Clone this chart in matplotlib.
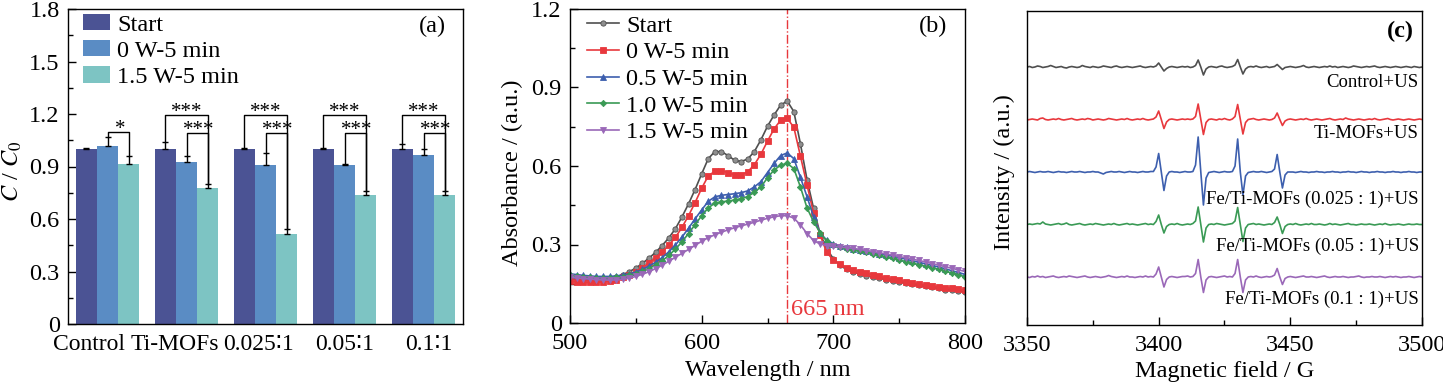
import numpy as np
import matplotlib
matplotlib.use("Agg")
import matplotlib.pyplot as plt
from matplotlib.ticker import MultipleLocator, FuncFormatter
from matplotlib.transforms import ScaledTranslation

plt.rcParams['font.family'] = ['Liberation Serif', 'DejaVu Sans', 'Noto Sans CJK SC']
plt.rcParams['mathtext.fontset'] = 'stix'
plt.rcParams['axes.linewidth'] = 1.0

# ---------------- Panel (a) data ----------------
groups = ['Control', 'Ti-MOFs', '0.025\u22361', '0.05\u22361', '0.1\u22361']
bar_series = ['Start', '0 W-5 min', '1.5 W-5 min']
start_vals = [1.00, 1.00, 1.00, 1.00, 1.00]
start_err = [0.005, 0.042, 0.007, 0.004, 0.029]
w0_vals = [1.019, 0.926, 0.907, 0.907, 0.964]
w0_err = [0.047, 0.032, 0.068, 0.006, 0.036]
w15_vals = [0.914, 0.775, 0.512, 0.737, 0.739]
w15_err = [0.044, 0.023, 0.029, 0.025, 0.021]
sig_big = ['', '***', '***', '***', '***']      # Start vs 1.5 W
sig_small = ['*', '***', '***', '***', '***']   # 0 W vs 1.5 W

# ---------------- Panel (b) data ----------------
wavelength = list(range(500, 801, 5))
abs_start = [0.170, 0.168, 0.166, 0.165, 0.165, 0.166, 0.170, 0.176, 0.185, 0.196,
             0.210, 0.228, 0.248, 0.270, 0.296, 0.325, 0.360, 0.405, 0.455, 0.510,
             0.570, 0.628, 0.655, 0.655, 0.640, 0.622, 0.617, 0.627, 0.655, 0.700,
             0.752, 0.795, 0.833, 0.848, 0.808, 0.685, 0.548, 0.438, 0.340, 0.285,
             0.245, 0.220, 0.205, 0.195, 0.187, 0.181, 0.176, 0.171, 0.166, 0.162,
             0.157, 0.152, 0.148, 0.144, 0.140, 0.136, 0.132, 0.128, 0.125, 0.122,
             0.119]
abs_0w = [0.160, 0.157, 0.155, 0.155, 0.155, 0.157, 0.160, 0.166, 0.174, 0.184,
          0.196, 0.212, 0.230, 0.250, 0.272, 0.297, 0.327, 0.365, 0.410, 0.460,
          0.515, 0.562, 0.580, 0.582, 0.575, 0.566, 0.566, 0.578, 0.605, 0.645,
          0.695, 0.742, 0.775, 0.782, 0.748, 0.638, 0.528, 0.420, 0.335, 0.270,
          0.240, 0.225, 0.212, 0.203, 0.196, 0.190, 0.184, 0.178, 0.173, 0.168,
          0.163, 0.158, 0.153, 0.149, 0.145, 0.141, 0.138, 0.135, 0.132, 0.129,
          0.126]
abs_05w = [0.188, 0.185, 0.182, 0.180, 0.178, 0.178, 0.178, 0.180, 0.183, 0.188,
           0.195, 0.205, 0.218, 0.232, 0.250, 0.272, 0.298, 0.328, 0.362, 0.398,
           0.432, 0.465, 0.482, 0.488, 0.491, 0.494, 0.498, 0.505, 0.520, 0.540,
           0.575, 0.610, 0.640, 0.650, 0.628, 0.557, 0.483, 0.406, 0.343, 0.317,
           0.303, 0.295, 0.289, 0.284, 0.279, 0.275, 0.270, 0.265, 0.260, 0.255,
           0.250, 0.244, 0.238, 0.232, 0.226, 0.220, 0.214, 0.207, 0.200, 0.193,
           0.186]
abs_10w = [0.183, 0.180, 0.177, 0.175, 0.173, 0.172, 0.172, 0.174, 0.177, 0.182,
           0.188, 0.197, 0.208, 0.222, 0.238, 0.258, 0.282, 0.310, 0.342, 0.376,
           0.410, 0.440, 0.458, 0.463, 0.466, 0.470, 0.475, 0.483, 0.500, 0.520,
           0.555, 0.585, 0.603, 0.610, 0.590, 0.520, 0.440, 0.387, 0.345, 0.312,
           0.297, 0.289, 0.284, 0.280, 0.275, 0.270, 0.265, 0.259, 0.253, 0.247,
           0.241, 0.235, 0.229, 0.223, 0.217, 0.211, 0.205, 0.198, 0.191, 0.184,
           0.177]
abs_15w = [0.175, 0.172, 0.170, 0.168, 0.166, 0.165, 0.164, 0.165, 0.167, 0.171,
           0.178, 0.186, 0.196, 0.208, 0.221, 0.236, 0.251, 0.266, 0.281, 0.297,
           0.312, 0.326, 0.337, 0.347, 0.356, 0.364, 0.371, 0.378, 0.385, 0.393,
           0.400, 0.406, 0.410, 0.410, 0.401, 0.375, 0.342, 0.315, 0.302, 0.296,
           0.293, 0.290, 0.288, 0.285, 0.281, 0.277, 0.273, 0.268, 0.264, 0.259,
           0.254, 0.249, 0.244, 0.239, 0.233, 0.227, 0.221, 0.215, 0.209, 0.203,
           0.197]
uv_labels = ['Start', '0 W-5 min', '0.5 W-5 min', '1.0 W-5 min', '1.5 W-5 min']

# ---------------- Panel (c) data ----------------
field = list(range(3350, 3501, 1))
epr_control = [0, 0.5, -0.5, 0, 1, 0.5, -0.5, 0, 0.5, 1.5,
               0.5, -0.5, 0, 0.5, -0.5, -1, 0, 0.5, 0, -0.5,
               0, 1.5, 0.5, 0, -0.5, 0.5, 0, -0.5, 0, 1,
               0.5, 0, -0.5, 0.5, 1, 0, -0.5, 0, 0.5, 0,
               -0.5, 0, 0.5, 1, 0, -0.5, 0, 0.5, 0, 1,
               4, 0, -4, -1.5, 0, 0.5, 0, -0.5, 0, 0.5,
               0, 0.5, -0.5, 0, 1.5, 7, 0, -8, -2, 0,
               0.5, 0, -0.5, 0.5, 1, 0, -0.5, 0, 0.5, 2,
               7.5, 0, -7, -2, 0, 0.5, 0, 1, 0, -0.5,
               0, 0.5, -0.5, 0, 0.5, 2.5, 0, -2.5, -0.5, 0,
               0.5, 0, -0.5, 0, 0.5, 1.5, 0, -0.5, 0, 0.5,
               0, -0.5, 0, 0.5, 0, 1, 0, 0.5, -0.5, 0,
               0.5, 0, -0.5, 0, 1, 0.5, 0, -0.5, 0, 0.5,
               0, 0.5, 1, 0, -0.5, 0, 0.5, 0, -0.5, 0,
               0.5, 0, -0.5, 0, 0.5, 0, -0.5, 0.5, 0, -0.5,
               0]
epr_ti = [-0.5, 0, 0.5, 0, -0.5, 1, 1.5, 0, -0.5, 0,
          0.5, 0, 1, 0, -0.5, 0, 0.5, 1, 0, -0.5,
          0, 0.5, 0, 1, 0.5, -0.5, 0, 0.5, 0, -0.5,
          0, 1, 0.5, 0, -0.5, 0, 0.5, 0, 1, 0,
          -0.5, 0, 0.5, 0, 1, 0, -0.5, 0, 0.5, 2.5,
          8.5, 0, -9, -2.5, 0, 0.5, 0, -0.5, 0, 0.5,
          0, 0.5, 0, 0.5, 3, 15.5, 0, -15, -3, 0,
          0.5, 0, -0.5, 0.5, 0, 1, 0, -0.5, 0.5, 3,
          15, 0, -14.5, -3, 0, 0.5, 1, 0, -0.5, 0,
          0.5, 0, -0.5, 0, 1.5, 6.5, 0, -6, -1.5, 0,
          0.5, 0, -0.5, 0, 0.5, 0, 1, 0, -0.5, 0,
          0.5, 0, -0.5, 0, 0.5, 1, 0, -0.5, 0, 0.5,
          0, 1.5, 0.5, 0, -0.5, 0, 0.5, 0, -0.5, 0,
          0.5, 0, 1, 0, -0.5, 0, 0.5, 1, 0, -0.5,
          0, 0.5, 0, -0.5, 0, 0.5, 0, -0.5, 0, 0.5,
          0]
epr_0025 = [0, 0.5, 0, -0.5, 0, 0.5, 0, 0, 0.5, 0,
            -0.5, 0, 0.5, 0, 0, -0.5, 0, 0.5, 0, 0,
            0.5, 0, -0.5, 0, 0, 0.5, 0, 0, -1, -2,
            -0.5, 0, 0.5, 0, 0, 0.5, 0, -0.5, 0, 0.5,
            0, 0, -0.5, 0, 0.5, 0, 0, 0.5, 0.5, 5,
            18.5, 0, -18.5, -4, 0, 0.5, 0, 0, -0.5, 0,
            0.5, 0, 0, 0.5, 7, 35, 0, -33, -6, -0.5,
            0, 0.5, 0, -0.5, 0, 0.5, 0, 0, 0.5, 6,
            33, 0, -23, -4, -0.5, 0, 0.5, 0, 0, 0.5,
            0, -0.5, 0, 0.5, 3, 17.5, 0, -16, -3, 0,
            0, 0, -0.5, 0, 0.5, 0, 0, -0.5, 0, 0,
            0.5, 0, 0, -0.5, 0, 0, 0.5, 0, 0, -0.5,
            0, 0, 0.5, 0, 0, -0.5, 0, 0.5, 0, 0,
            -0.5, 0, 0, 0.5, 0, 0, -0.5, 0, 0, 0.5,
            0, 0, -0.5, 0, 0, 0.5, 0, 0, -0.5, 0,
            0]
epr_005 = [0, 0.5, 0, 0.5, 1, 0.5, 2.5, 0.5, 0, -0.5,
           0, 0.5, 1, 0, 0.5, 1.5, 0, -0.5, 0, 0.5,
           1, 0, -0.5, 0, 0.5, 0, 1, 0.5, 0, -0.5,
           0, 0.5, 0, 1, 0, -0.5, 0, 0.5, 1, 0,
           0.5, 0, -0.5, 0, 0.5, 1, 0, 0.5, 0, 3,
           9.5, 0, -8.5, -2, 0, 0.5, 0, 1, 0, -0.5,
           0, 0.5, 0, 1, 3.5, 17.5, 0, -17.5, -3.5, 0,
           0.5, 0, 1, 0.5, 0, -0.5, 0, 0.5, 1, 3.5,
           17, 0, -17, -3.5, 0, 0.5, 1, 0, 0.5, 0,
           -0.5, 0, 0.5, 0, 2, 7.5, 0, -9, -2, 0,
           0.5, 0, 1, 0, -0.5, 0, 0.5, 0, 1, 0,
           0, 0.5, 0, -0.5, 0, 1, 0, 0.5, 0, -0.5,
           0, 0.5, 1, 0, 0, -0.5, 0, 0.5, 0, 0,
           0.5, 0, -0.5, 0, 0.5, 0, 1, 0, -0.5, 0,
           0, 0.5, 0, -0.5, 0, 0.5, 0, 0, 0.5, 0,
           0]
epr_01 = [0, -0.5, 0.5, 0, 1, 0, 0.5, -0.5, 0, 0.5,
          1, 0, -0.5, 0, 0.5, 0, 1, 0.5, 0, -0.5,
          0, 0.5, 1, 0, -0.5, 0, 0.5, 0, -0.5, 0,
          0.5, 1.5, 0.5, 0, -0.5, 0, 0.5, 0, 1, 0,
          0, -0.5, 0, 0.5, 0, 1, 0, 0.5, 0, 3,
          10, 0, -10, -2.5, 0, 0.5, 0, -0.5, 0, 0.5,
          0.5, 1, 0, 0.5, 3.5, 17.5, 0, -15.5, -3, 0,
          0.5, 0, -0.5, 0, 0.5, 1, 0, 0.5, 0, 3.5,
          17.5, 0, -15.5, -3, 0, 0.5, 0, 1, 0, -0.5,
          0, 0.5, 0, 0.5, 2, 8.5, 0, -7.5, -1.5, 0,
          0.5, 0, -0.5, 0, 0.5, 1, 0, 0, 0.5, 0,
          -0.5, 0, 0.5, 1, 0, -0.5, 0, 0.5, 0, 0,
          0.5, 0, -0.5, 0, 0, 0.5, 1, 0, -0.5, 0,
          0, 0.5, 0, 0, 0.5, 0, -0.5, 0, 0.5, 0,
          0.5, 0, -0.5, 0, 0, 0.5, 0, -0.5, 0, 0.5,
          0]
epr_labels = ['Control+US', 'Ti-MOFs+US', 'Fe/Ti-MOFs (0.025 : 1)+US',
              'Fe/Ti-MOFs (0.05 : 1)+US', 'Fe/Ti-MOFs (0.1 : 1)+US']

# ---------------- Figure ----------------
W, H = 1443, 385
fig = plt.figure(figsize=(W / 100, H / 100), dpi=100)

def px_axes(l, t, r, b):
    return fig.add_axes([l / W, 1 - b / H, (r - l) / W, (b - t) / H])

FS = 17.5
axa = px_axes(68, 9, 463, 324)
axb = px_axes(570, 9, 965, 323)
axc = px_axes(1027, 11, 1422, 325)

def fmt(v, pos):
    return '0' if abs(v) < 1e-9 else f'{v:.1f}'

for ax in (axa, axb, axc):
    ax.tick_params(direction='in', which='both', labelsize=FS, pad=6)
    ax.tick_params(axis='x', which='both', pad=7.5)
    ax.tick_params(which='major', length=6, width=1.0)
    ax.tick_params(which='minor', length=3.5, width=1.0)

# ---- (a) ----
bar_colors = ['#4b5394', '#5a8cc4', '#7dc4c3']
w = 0.27
xg = np.arange(len(groups))
vals_list = [start_vals, w0_vals, w15_vals]
err_list = [start_err, w0_err, w15_err]
for i, (v, e, c, lab) in enumerate(zip(vals_list, err_list, bar_colors, bar_series)):
    xs = xg + (i - 1) * w
    axa.bar(xs, v, width=w, color=c, label=lab, zorder=2)
    axa.errorbar(xs, v, yerr=[np.zeros(len(v)), e], fmt='none', ecolor='black',
                 elinewidth=1.0, capsize=2.5, capthick=1.0, zorder=3)

big_y, small_y = 1.194, 1.093
for g in range(len(groups)):
    tS = start_vals[g] + start_err[g]
    t0 = w0_vals[g] + w0_err[g]
    t15 = w15_vals[g] + w15_err[g]
    xS, x0, x15 = g - w, g, g + w
    if sig_big[g]:
        axa.plot([xS, xS, x15, x15], [tS, big_y, big_y, t15], color='black', lw=1.0, zorder=4)
        axa.text((xS + x15) / 2, big_y + 0.015, sig_big[g], ha='center', va='center', fontsize=15)
    if sig_small[g]:
        sy = small_y if g else 1.099
        axa.plot([x0, x0, x15, x15], [t0, sy, sy, t15], color='black', lw=1.0, zorder=4)
        axa.text((x0 + x15) / 2 + 0.02, sy + 0.015, sig_small[g], ha='center', va='center', fontsize=15)

axa.set_xlim(-0.5, 4.5)
axa.set_ylim(0, 1.8)
axa.yaxis.set_major_locator(MultipleLocator(0.3))
axa.yaxis.set_minor_locator(MultipleLocator(0.15))
axa.yaxis.set_major_formatter(FuncFormatter(fmt))
axa.set_xticks(xg)
axa.set_xticklabels(groups, fontsize=17)
label_shift = [-18, -12, -7, 0, 5]
for t, s in zip(axa.get_xticklabels(), label_shift):
    t.set_transform(t.get_transform() + ScaledTranslation(s / 100, 0, fig.dpi_scale_trans))
axa.set_ylabel('$C$ / $C_0$', fontsize=FS)
axa.yaxis.set_label_coords(-0.112, 0.483)
axa.legend(loc='upper left', bbox_to_anchor=(0.026, 1.0), fontsize=FS, frameon=False,
           handlelength=1.1, handleheight=0.65, handletextpad=0.3, labelspacing=0.19,
           borderaxespad=0.0, borderpad=0.2)
axa.text(0.923, 0.946, '(a)', transform=axa.transAxes, ha='center', va='center', fontsize=FS)

# ---- (b) ----
uv_series = [abs_start, abs_0w, abs_05w, abs_10w, abs_15w]
uv_colors = ['#4f4f4f', '#e8383d', '#3d5fae', '#3a9a55', '#9a68b8']
uv_markers = ['o', 's', '^', 'D', 'v']
uv_face = ['#8f8f8f', '#e8383d', '#3d5fae', '#3a9a55', '#9a68b8']
for y, c, m, fcol, lab in zip(uv_series, uv_colors, uv_markers, uv_face, uv_labels):
    axb.plot(wavelength, y, color=c, lw=1.2, marker=m, ms=3.8 if m != 'D' else 3.2,
             mfc=fcol, mec=c, mew=0.6, label=lab)
axb.axvline(665, color='#e8383d', lw=1.0, ls='-.', zorder=1)
axb.text(667.5, 0.05, '665 nm', color='#e8383d', fontsize=FS, ha='left', va='center')
axb.set_xlim(500, 800)
axb.set_ylim(0, 1.2)
axb.xaxis.set_major_locator(MultipleLocator(100))
axb.xaxis.set_minor_locator(MultipleLocator(50))
axb.yaxis.set_major_locator(MultipleLocator(0.3))
axb.yaxis.set_minor_locator(MultipleLocator(0.15))
axb.yaxis.set_major_formatter(FuncFormatter(fmt))
axb.set_xlabel('Wavelength / nm', fontsize=FS)
axb.xaxis.set_label_coords(0.50, -0.118)
axb.set_ylabel('Absorbance / (a.u.)', fontsize=FS)
axb.yaxis.set_label_coords(-0.118, 0.478)
axb.legend(loc='upper left', bbox_to_anchor=(0.031, 0.997), fontsize=FS, frameon=False,
           handlelength=1.3, handletextpad=0.3, labelspacing=0.19,
           borderaxespad=0.0, borderpad=0.2)
axb.text(0.92, 0.944, '(b)', transform=axb.transAxes, ha='center', va='center', fontsize=FS)

# ---- (c) ----
epr_series = [epr_control, epr_ti, epr_0025, epr_005, epr_01]
epr_colors = ['#4f4f4f', '#e8383d', '#3d5fae', '#3a9a55', '#9a68b8']
offsets = [210, 157.5, 105, 52.5, 0]
label_y = [194.3, 143, 78, 30.3, -22]
for y, c, off, lab, ly in zip(epr_series, epr_colors, offsets, epr_labels, label_y):
    axc.plot(field, np.array(y) + off, color=c, lw=1.2)
    axc.text(3498.8, ly, lab, ha='right', va='center', fontsize=13.5)
axc.set_xlim(3350, 3500)
axc.set_ylim(-48, 266)
axc.set_yticks([])
axc.xaxis.set_major_locator(MultipleLocator(50))
axc.xaxis.set_minor_locator(MultipleLocator(25))
axc.set_xlabel('Magnetic field / G', fontsize=FS)
axc.xaxis.set_label_coords(0.501, -0.115)
axc.set_ylabel('Intensity / (a.u.)', fontsize=FS)
axc.yaxis.set_label_coords(-0.030, 0.486)
axc.text(0.945, 0.934, '(c)', transform=axc.transAxes, ha='center', va='center',
         fontsize=FS, fontweight='bold')

fig.savefig('out.png', dpi=100)
